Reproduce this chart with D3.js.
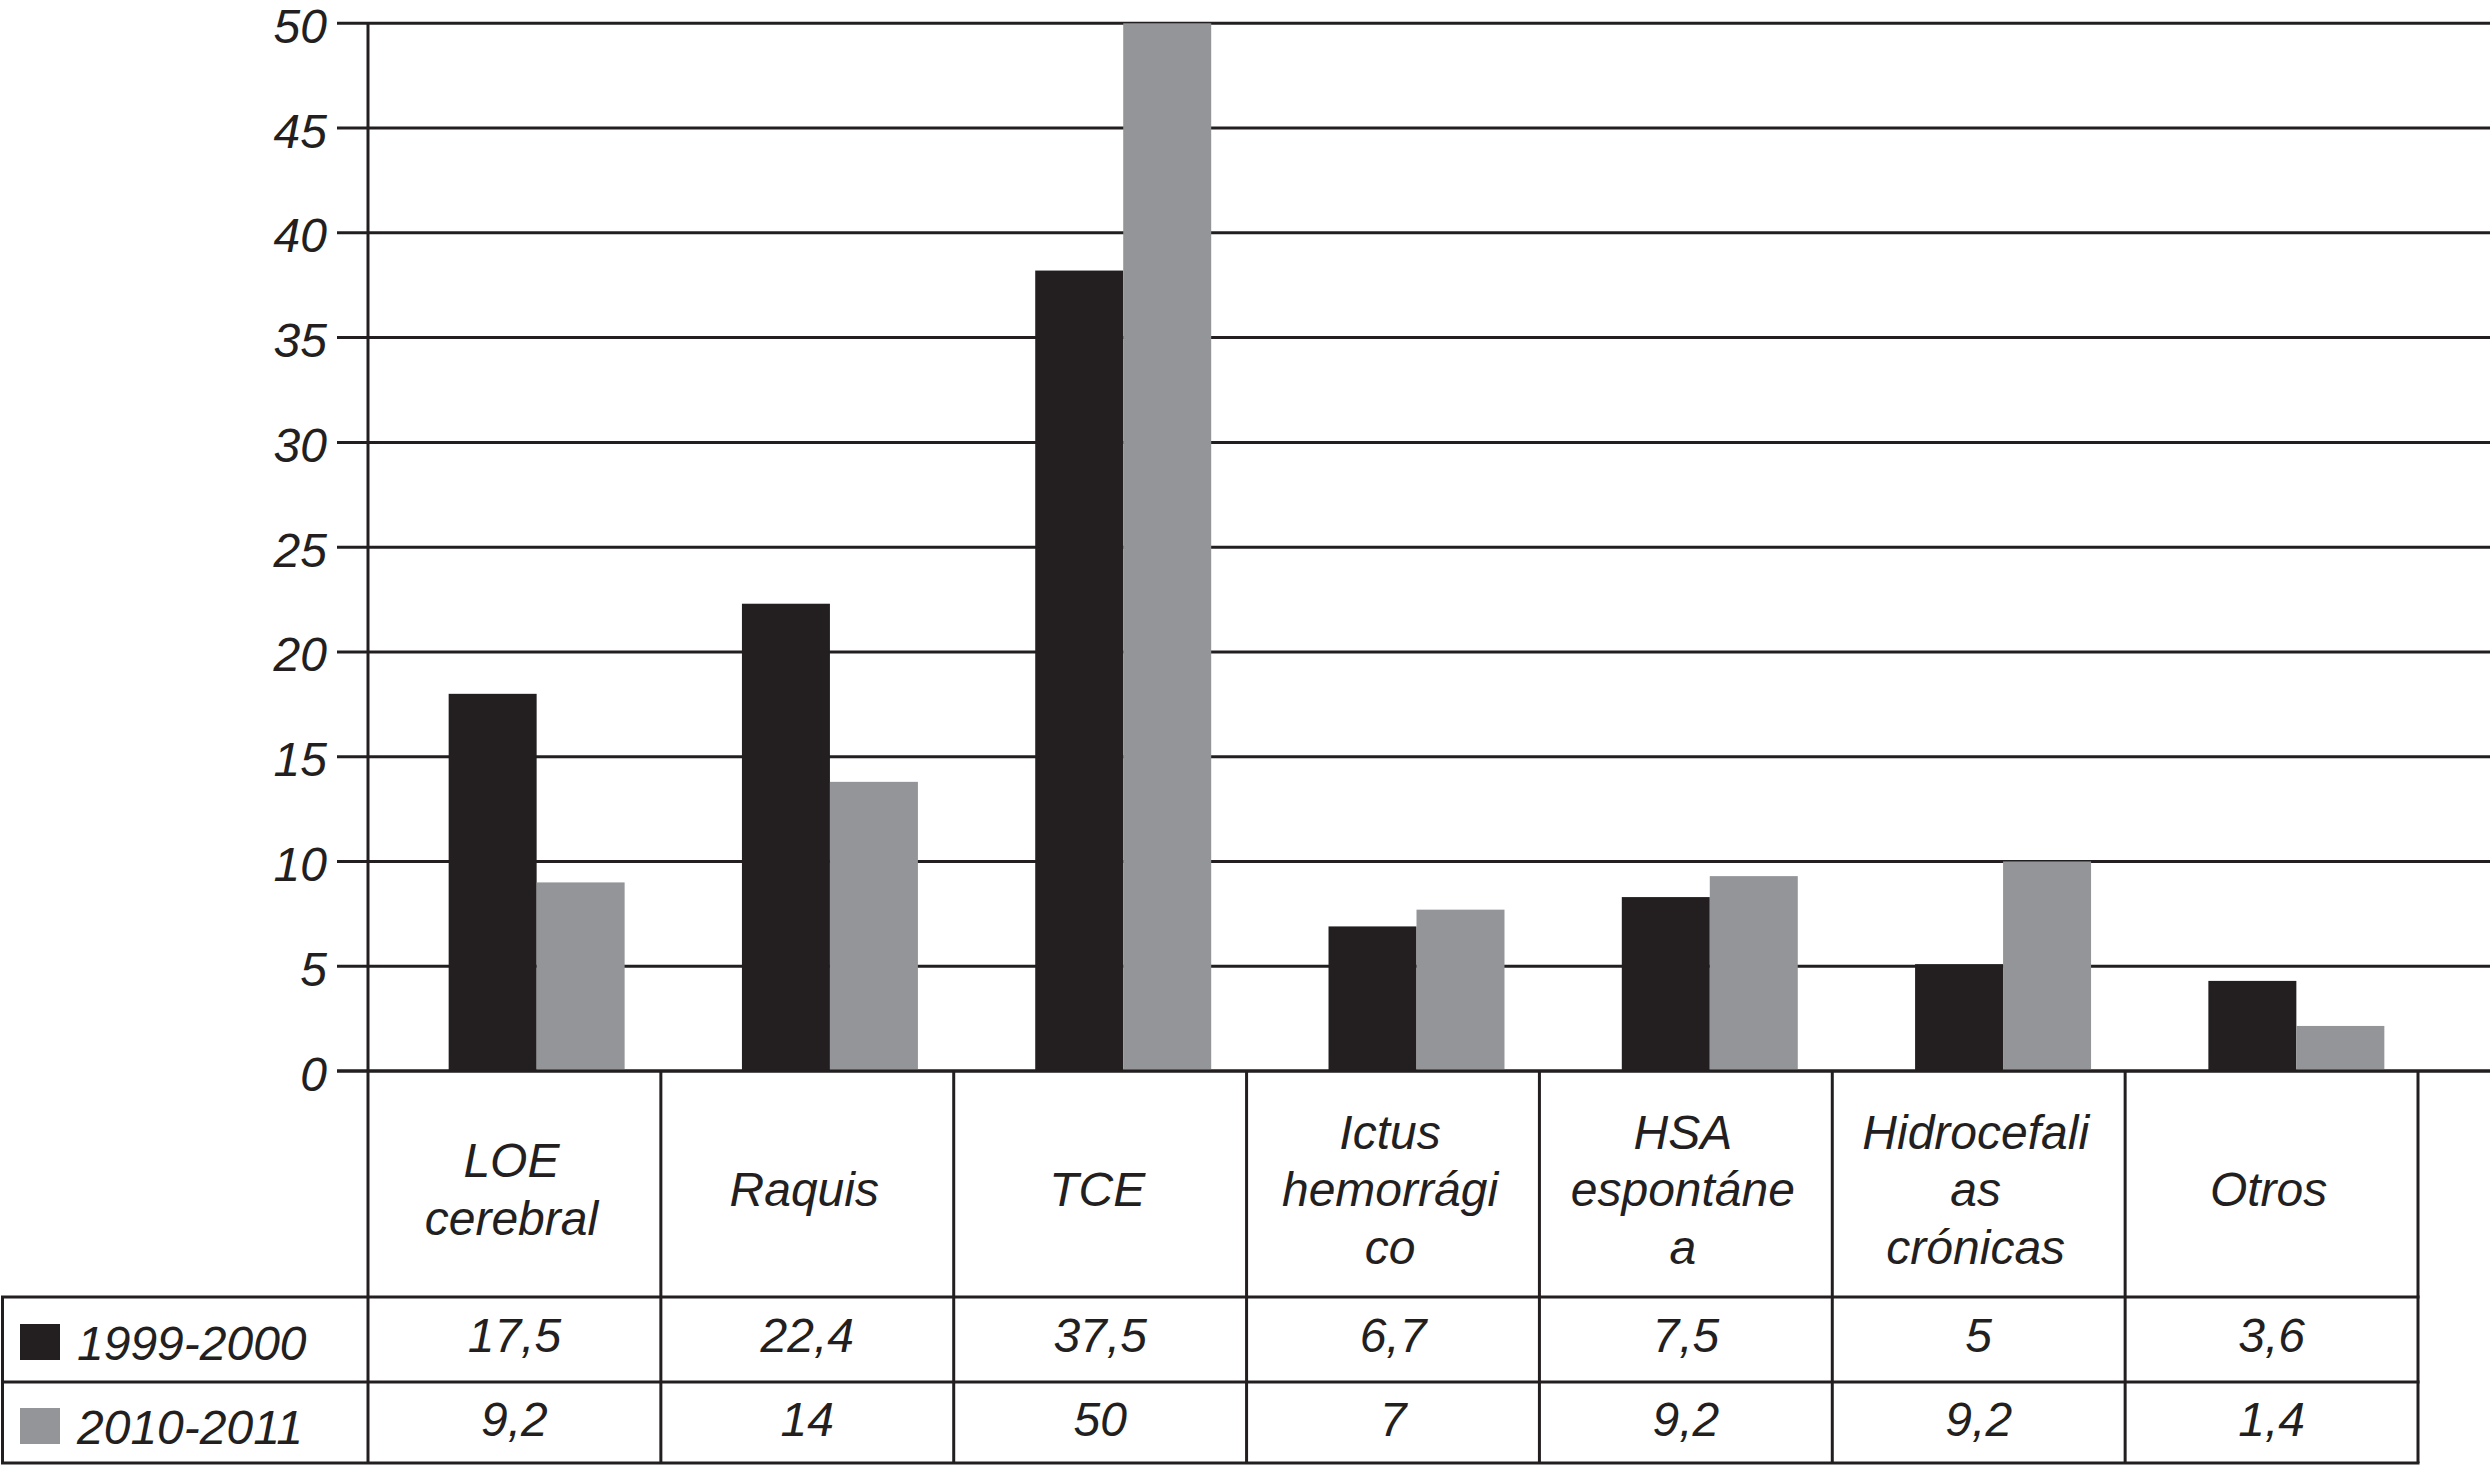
<!DOCTYPE html>
<html>
<head>
<meta charset="utf-8">
<script src="https://cdn.jsdelivr.net/npm/d3@7"></script>
<style>
  html, body { margin: 0; padding: 0; background: #fff; }
  svg { display: block; }
  text { font-family: "Liberation Sans", Arial, Helvetica, sans-serif; font-style: italic; fill: #231f20; }
</style>
</head>
<body>
<svg id="chart" width="2490" height="1465"></svg>
<script>
// ---- data ----
const categories = ["LOE cerebral", "Raquis", "TCE", "Ictus hemorrágico", "HSA espontánea", "Hidrocefalias crónicas", "Otros"];
const categoryLines = [["LOE", "cerebral"], ["Raquis"], ["TCE"], ["Ictus", "hemorrági", "co"], ["HSA", "espontáne", "a"], ["Hidrocefali", "as", "crónicas"], ["Otros"]];
const seriesNames = ["1999-2000", "2010-2011"];
// bar heights as drawn in the picture
const values1999 = [18.0, 22.3, 38.2, 6.9, 8.3, 5.1, 4.3];
const values2010 = [9.0, 13.8, 50, 7.7, 9.3, 10.0, 2.15];
// values printed in the data table
const table1999 = ["17,5", "22,4", "37,5", "6,7", "7,5", "5", "3,6"];
const table2010 = ["9,2", "14", "50", "7", "9,2", "9,2", "1,4"];
const yTicks = [0, 5, 10, 15, 20, 25, 30, 35, 40, 45, 50];
const colors = ["#231f20", "#939598"];

// ---- layout ----
const W = 2490, H = 1465;
const ink = "#231f20";
const lw = 3;
const fs = 48;
const axisX = 368;
const tableRight = 2418;
const rowTop = 1297, rowMid = 1382, rowBot = 1463;

const svg = d3.select("#chart");

const y = d3.scaleLinear().domain([0, 50]).range([1071, 23.3]);

// bar groups
const xBars = d3.scaleBand().domain(categories).range([390, 2443]).paddingInner(0.4).paddingOuter(0.2);
const xSeries = d3.scaleBand().domain(seriesNames).range([0, xBars.bandwidth()]);
// table columns
const xCols = d3.scaleBand().domain(categories).range([axisX, tableRight]);

// gridlines + ticks
svg.append("g").selectAll("line").data(yTicks).join("line")
  .attr("x1", 337).attr("x2", W)
  .attr("y1", d => y(d)).attr("y2", d => y(d))
  .attr("stroke", ink).attr("stroke-width", lw);

// y tick labels
svg.append("g").selectAll("text").data(yTicks).join("text")
  .attr("x", 327).attr("y", d => y(d) + 19.5)
  .attr("text-anchor", "end")
  .attr("font-size", fs)
  .text(d => d);

// bars
const seriesData = [values1999, values2010];
const barG = svg.append("g");
seriesData.forEach((vals, si) => {
  barG.selectAll(null).data(categories).join("rect")
    .attr("x", c => xBars(c) + xSeries(seriesNames[si]))
    .attr("width", xSeries.bandwidth())
    .attr("y", (c, i) => y(vals[i]))
    .attr("height", (c, i) => y(0) - y(vals[i]))
    .attr("fill", colors[si]);
});

// zero line on top
svg.append("line")
  .attr("x1", 337).attr("x2", W).attr("y1", y(0)).attr("y2", y(0))
  .attr("stroke", ink).attr("stroke-width", lw);

// y axis line (continues through table)
svg.append("line")
  .attr("x1", axisX).attr("x2", axisX).attr("y1", y(50)).attr("y2", rowBot)
  .attr("stroke", ink).attr("stroke-width", lw);

// table
const tg = svg.append("g");
const colBounds = categories.map(c => xCols(c) + xCols.bandwidth());
tg.selectAll("line.v").data(colBounds).join("line")
  .attr("x1", d => d).attr("x2", d => d).attr("y1", y(0)).attr("y2", rowBot)
  .attr("stroke", ink).attr("stroke-width", lw);
tg.append("line").attr("x1", 2.5).attr("x2", 2.5).attr("y1", rowTop).attr("y2", rowBot)
  .attr("stroke", ink).attr("stroke-width", lw);
[rowTop, rowMid, rowBot].forEach(yy => {
  tg.append("line").attr("x1", 1).attr("x2", tableRight + 1.5).attr("y1", yy).attr("y2", yy)
    .attr("stroke", ink).attr("stroke-width", lw);
});

// category labels
categories.forEach((c, i) => {
  const lines = categoryLines[i];
  const n = lines.length;
  const t = tg.append("text")
    .attr("text-anchor", "middle")
    .attr("font-size", fs);
  lines.forEach((ln, k) => {
    t.append("tspan")
      .attr("x", xCols(c) + xCols.bandwidth() / 2 - 3)
      .attr("y", 1206 + (k - (n - 1) / 2) * 57.5)
      .text(ln);
  });
});

// table values
[table1999, table2010].forEach((row, ri) => {
  tg.selectAll(null).data(categories).join("text")
    .attr("x", c => xCols(c) + xCols.bandwidth() / 2)
    .attr("y", ri === 0 ? 1352 : 1436)
    .attr("text-anchor", "middle")
    .attr("font-size", fs)
    .text((c, i) => row[i]);
});

// legend
seriesNames.forEach((s, si) => {
  const top = si === 0 ? 1324 : 1408;
  tg.append("rect").attr("x", 20).attr("y", top).attr("width", 40).attr("height", 36).attr("fill", colors[si]);
  tg.append("text").attr("x", 77).attr("y", top + 36).attr("font-size", fs).text(s);
});
</script>
</body>
</html>
